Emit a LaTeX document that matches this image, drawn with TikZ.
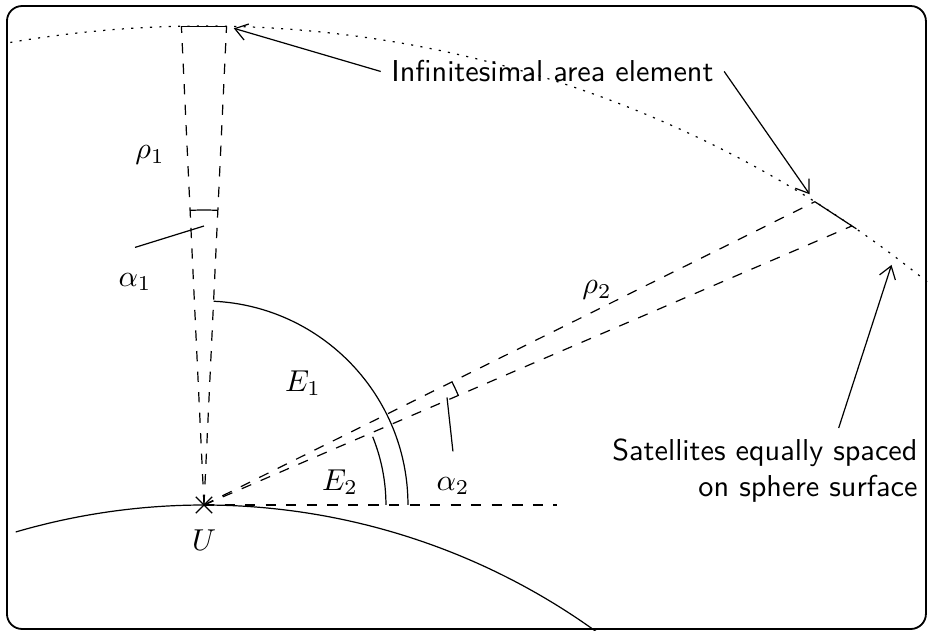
\documentclass[tikz,border=0pt]{standalone}
\usepackage{tikz}
\usetikzlibrary{arrows.meta,shapes.misc,calc}

\begin{document}
\begin{tikzpicture}[>={Straight Barb[length=4pt,width=5.5pt]},
		ray/.style={dash pattern=on 3.4pt off 3.4pt},
		orbit/.style={dash pattern=on 0.7pt off 2.4pt},
		lbl/.style={font=\sffamily}]
		\useasboundingbox (-2.372, -1.465) rectangle (8.419, 5.872);
		\draw [rounded corners=5pt, semithick] (-2.291, -1.442) rectangle (8.395, 5.802);
		% earth and satellite sphere
		\coordinate (ctr) at (0, -7.8);
		\draw (ctr) ++(106.3:7.8) arc (106.3:54:7.8);
		\draw [orbit] (ctr) ++(99.7:13.37) arc (99.7:50:13.37);
		\node [cross out, draw, minimum size=5pt, inner sep=0pt] (U) at (0, 0) {};
		\node (Ulbl) at (0, -0.41) {$U$};
		% the two beams
		\coordinate (A1) at (92.7:5.574);
		\coordinate (B1) at (87.3:5.574);
		\coordinate (A2) at (26.4:7.931);
		\coordinate (B2) at (23.3:8.204);
		\coordinate (H) at (4.1, 0);
		\draw [ray] (U.center) -- (A1);
		\draw [ray] (U.center) -- (B1);
		\draw [ray] (U.center) -- (A2);
		\draw [ray] (U.center) -- (B2);
		\draw [ray] (U.center) -- (H);
		\draw (A1) -- (B1);
		\draw (A2) -- ($(A2)!1.12!(B2)$);
		% angles
		\draw (2.372, 0) arc (0:87.3:2.372);
		\draw (2.116, 0) arc (0:22:2.116);
		\draw (87.3:3.43) arc (87.3:92.7:3.43);
		\draw (23.3:3.22) arc (23.3:26.4:3.22);
		\node (E1) at (1.151, 1.419) {$E_1$};
		\node (E2) at (1.581, 0.267) {$E_2$};
		\node (rho1) at (-0.628, 4.07) {$\rho_1$};
		\node (rho2) at (4.57, 2.5) {$\rho_2$};
		\node (alpha1) at (-0.802, 2.593) {$\alpha_1$};
		\node (alpha2) at (2.895, 0.221) {$\alpha_2$};
		\coordinate (a1tip) at (0, 3.244);
		\coordinate (a2tip) at (2.826, 1.25);
		\draw ([yshift=5pt]alpha1.north) -- (a1tip);
		\draw ([yshift=5pt]alpha2.north) -- (a2tip);
		% captions
		\node [lbl] (areatxt) at (4.052, 5.041) {Infinitesimal area element};
		\node [lbl, align=right] (sattxt) at (6.523, 0.40) {Satellites equally spaced\\on sphere surface};
		\coordinate (S) at ($(ctr) + (53.1:13.37)$);
		\draw [->, shorten >=2.5pt] (areatxt.west) -- (B1);
		\draw [->, shorten >=3pt] (areatxt.east) -- (A2);
		\draw [->, shorten >=3pt] (sattxt.30) -- (S);
	\end{tikzpicture}
\end{document}
